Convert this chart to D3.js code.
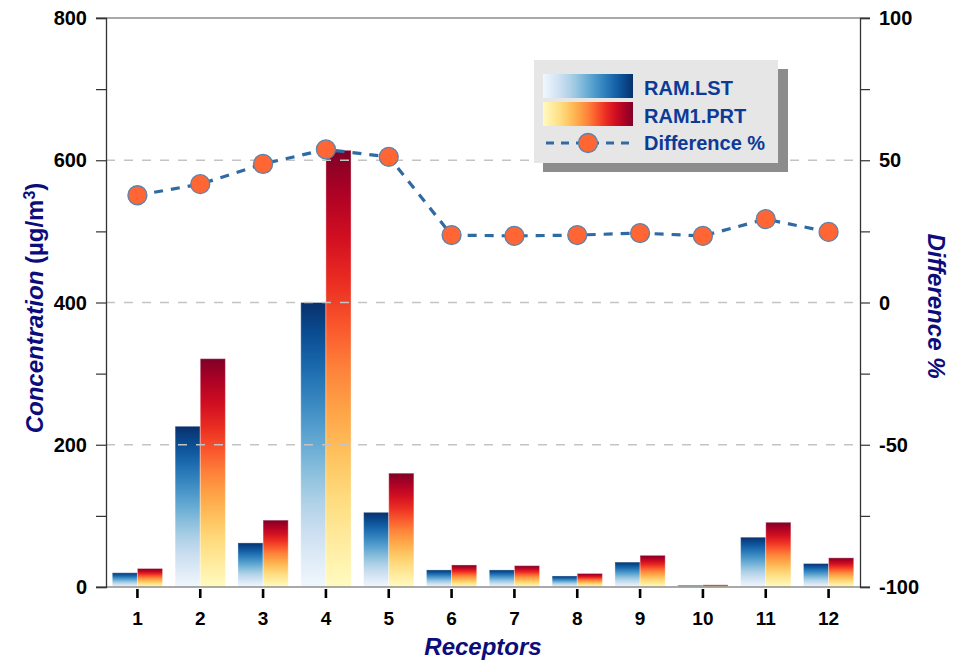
<!DOCTYPE html>
<html>
<head>
<meta charset="utf-8">
<script src="https://cdn.jsdelivr.net/npm/d3@7/dist/d3.min.js"></script>
<style>
  html, body { margin: 0; padding: 0; background: #fff; }
  svg { display: block; font-family: "Liberation Sans", Arial, sans-serif; }
</style>
</head>
<body>
<svg id="chart" width="964" height="660"></svg>
<script>
// Receptor concentrations (µg/m³) for two model runs and their % difference
const receptors = ["1", "2", "3", "4", "5", "6", "7", "8", "9", "10", "11", "12"];
const ramLst   = [20, 226, 62, 400, 105, 24, 24, 15.5, 35, 2.4, 70, 33];
const ram1Prt  = [26, 321, 94, 614, 160, 31, 30, 19, 44.5, 3, 91, 41];
const diffPct  = [37.7, 41.6, 48.7, 53.8, 51.2, 23.7, 23.4, 23.7, 24.4, 23.4, 29.3, 24.8];
const leftTicks  = [0, 200, 400, 600, 800];
const rightTicks = [-100, -50, 0, 50, 100];
const seriesNames = ["RAM.LST", "RAM1.PRT", "Difference %"];

const svg = d3.select("#chart");
const plot = { left: 106, right: 860, top: 18, bottom: 587 };

const x = d3.scaleBand().domain(receptors)
  .range([plot.left, plot.right]).paddingInner(0.2).paddingOuter(0.1);
const xSub = d3.scaleBand().domain(["lst", "prt"]).range([0, x.bandwidth()]);
const y = d3.scaleLinear().domain([0, 800]).range([plot.bottom, plot.top]);
const y2 = d3.scaleLinear().domain([-100, 100]).range([plot.bottom, plot.top]);

// Colour ramps: light at the base of each bar, saturated at the top
const defs = svg.append("defs");
function ramp(id, interp, vertical) {
  const g = defs.append("linearGradient").attr("id", id)
    .attr("x1", 0).attr("y1", vertical ? 1 : 0)
    .attr("x2", vertical ? 0 : 1).attr("y2", 0);
  d3.range(0, 1.0001, 0.1).forEach(f => {
    g.append("stop").attr("offset", f).attr("stop-color", interp(0.03 + 0.97 * f));
  });
}
ramp("gradBlue", d3.interpolateBlues, true);
ramp("gradRed", d3.interpolateYlOrRd, true);
ramp("gradBlueH", d3.interpolateBlues, false);
ramp("gradRedH", d3.interpolateYlOrRd, false);

// Bars
const groups = svg.append("g").selectAll("g").data(receptors).join("g")
  .attr("transform", d => `translate(${x(d)},0)`);
groups.append("rect")
  .attr("x", xSub("lst")).attr("width", xSub.bandwidth())
  .attr("y", (d, i) => y(ramLst[i])).attr("height", (d, i) => y(0) - y(ramLst[i]))
  .attr("fill", "url(#gradBlue)").attr("stroke", "#fff").attr("stroke-opacity", 0.35).attr("stroke-width", 1);
groups.append("rect")
  .attr("x", xSub("prt")).attr("width", xSub.bandwidth())
  .attr("y", (d, i) => y(ram1Prt[i])).attr("height", (d, i) => y(0) - y(ram1Prt[i]))
  .attr("fill", "url(#gradRed)").attr("stroke", "#fff").attr("stroke-opacity", 0.35).attr("stroke-width", 1);

// Grid lines
svg.append("g").selectAll("line").data([200, 400, 600]).join("line")
  .attr("x1", plot.left).attr("x2", plot.right)
  .attr("y1", d => y(d)).attr("y2", d => y(d))
  .attr("stroke", "#c4c4c4").attr("stroke-width", 1.5).attr("stroke-dasharray", "9,9");
svg.append("g").selectAll("line").data([0, 800]).join("line")
  .attr("x1", plot.left - 10).attr("x2", plot.right + 10)
  .attr("y1", d => y(d)).attr("y2", d => y(d))
  .attr("stroke", "#8c8c8c").attr("stroke-width", 1.3);

// Left axis
const leftAxis = svg.append("g").attr("transform", `translate(${plot.left},0)`)
  .call(d3.axisLeft(y).tickValues(d3.range(0, 801, 100)).tickSize(10).tickFormat(""));
leftAxis.select(".domain").attr("stroke", "#333").attr("stroke-width", 1.3);
leftAxis.selectAll(".tick line").attr("stroke", "#333").attr("stroke-width", 1.2);
svg.append("g").selectAll("text").data(leftTicks).join("text")
  .attr("x", 87).attr("y", d => y(d) + 7)
  .attr("text-anchor", "end").attr("font-size", 20).attr("font-weight", "bold").attr("fill", "#000")
  .text(d => d);

// Right axis
const rightAxis = svg.append("g").attr("transform", `translate(${plot.right},0)`)
  .call(d3.axisRight(y2).tickValues(d3.range(-100, 101, 25)).tickSize(10).tickFormat(""));
rightAxis.select(".domain").attr("stroke", "#333").attr("stroke-width", 1.3);
rightAxis.selectAll(".tick line").attr("stroke", "#333").attr("stroke-width", 1.2);
svg.append("g").selectAll("text").data(rightTicks).join("text")
  .attr("x", 879).attr("y", d => y2(d) + 7)
  .attr("text-anchor", "start").attr("font-size", 20).attr("font-weight", "bold").attr("fill", "#000")
  .text(d => d);

// Bottom axis: category ticks and labels
const bottomAxis = svg.append("g").attr("transform", `translate(0,${plot.bottom + 2})`)
  .call(d3.axisBottom(x).tickSize(9).tickPadding(14));
bottomAxis.select(".domain").remove();
bottomAxis.selectAll(".tick line").attr("stroke", "#000").attr("stroke-width", 2.6);
bottomAxis.selectAll(".tick text")
  .attr("font-size", 19).attr("font-weight", "bold").attr("fill", "#000")
  .attr("font-family", "'Liberation Sans', Arial, sans-serif");

// Difference % line and markers
const cx = d => x(d) + x.bandwidth() / 2;
const line = d3.line().x((d, i) => cx(receptors[i])).y(d => y2(d));
svg.append("path").datum(diffPct).attr("d", line)
  .attr("fill", "none").attr("stroke", "#2f6aa3").attr("stroke-width", 3.2)
  .attr("stroke-dasharray", "9,8");
svg.append("g").selectAll("circle").data(diffPct).join("circle")
  .attr("cx", (d, i) => cx(receptors[i])).attr("cy", d => y2(d)).attr("r", 9.5)
  .attr("fill", "#ff6633").attr("stroke", "#5f82aa").attr("stroke-width", 1.3);

// Axis titles
const navy = "#0c0c7a";
const lt = svg.append("text").attr("transform", "translate(43,308) rotate(-90)")
  .attr("text-anchor", "middle").attr("font-size", 24).attr("font-weight", "bold").attr("fill", navy);
lt.append("tspan").attr("font-style", "italic").text("Concentration");
lt.append("tspan").text(" (µg/m");
lt.append("tspan").attr("font-size", 16).attr("dy", -8).text("3");
lt.append("tspan").attr("dy", 8).text(")");

svg.append("text").attr("transform", "translate(928,306) rotate(90)")
  .attr("text-anchor", "middle").attr("font-size", 24).attr("font-weight", "bold")
  .attr("font-style", "italic").attr("fill", navy).text("Difference %");

svg.append("text").attr("x", 483).attr("y", 655)
  .attr("text-anchor", "middle").attr("font-size", 24).attr("font-weight", "bold")
  .attr("font-style", "italic").attr("fill", navy).text("Receptors");

// Legend
const legend = svg.append("g");
legend.append("rect").attr("x", 543).attr("y", 69).attr("width", 245).attr("height", 103).attr("fill", "#8c8c8c");
legend.append("rect").attr("x", 534).attr("y", 60).attr("width", 244).attr("height", 103).attr("fill", "#e6e6e6");
legend.append("rect").attr("x", 543).attr("y", 74).attr("width", 90).attr("height", 24).attr("fill", "url(#gradBlueH)");
legend.append("rect").attr("x", 543).attr("y", 102).attr("width", 90).attr("height", 24).attr("fill", "url(#gradRedH)");
legend.append("line").attr("x1", 546).attr("x2", 632).attr("y1", 143).attr("y2", 143)
  .attr("stroke", "#2f6aa3").attr("stroke-width", 3.2).attr("stroke-dasharray", "8,7");
legend.append("circle").attr("cx", 588).attr("cy", 143).attr("r", 9.5)
  .attr("fill", "#ff6633").attr("stroke", "#5f82aa").attr("stroke-width", 1.3);
legend.selectAll("text.lab").data(seriesNames).join("text").attr("class", "lab")
  .attr("x", 644).attr("y", (d, i) => 95 + i * 27.5)
  .attr("font-size", 20).attr("font-weight", "bold").attr("fill", "#0d3a96")
  .text(d => d);
</script>
</body>
</html>
